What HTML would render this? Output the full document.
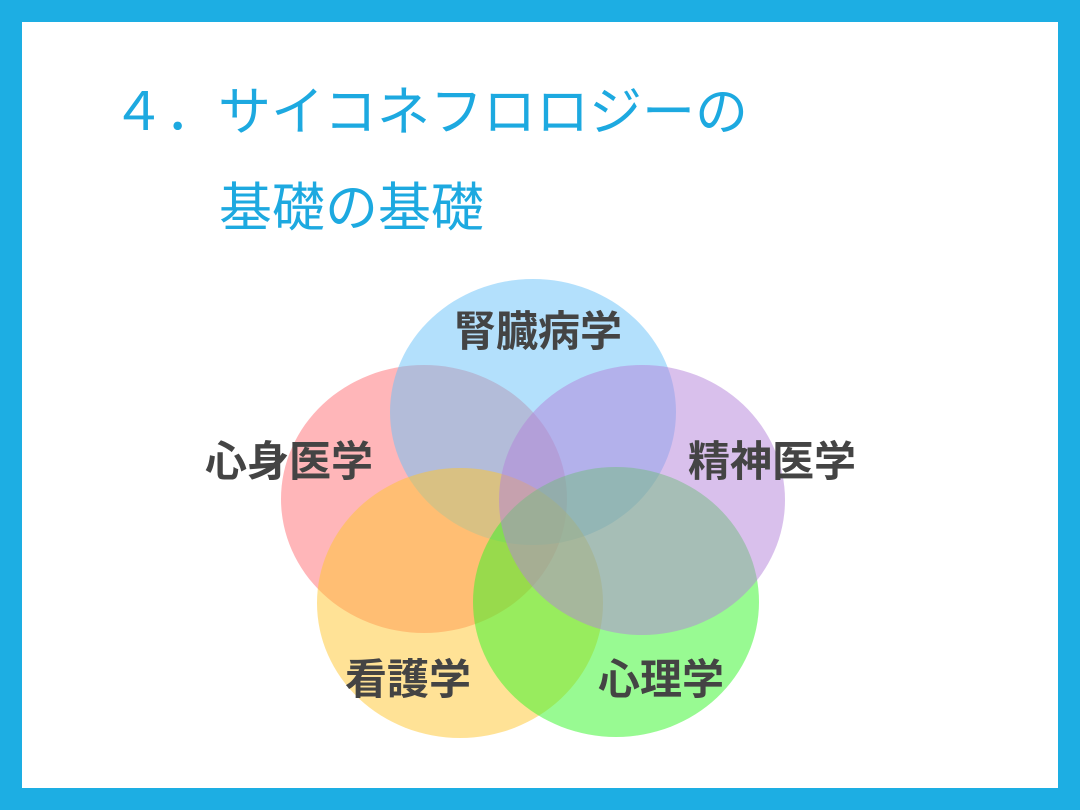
<!DOCTYPE html>
<html><head><meta charset="utf-8"><style>
html,body{margin:0;padding:0}
body{width:1080px;height:810px;background:#1DAEE3;position:relative;overflow:hidden;font-family:"Liberation Sans","Noto Sans CJK JP",sans-serif}
.inner{position:absolute;left:22px;top:22px;width:1036px;height:766px;background:#fff}
.t{position:absolute;color:#1DA9E0;font-size:53px;white-space:nowrap;line-height:74px}
.l{position:absolute;color:#444;font-size:42px;font-weight:bold;white-space:nowrap;line-height:60px}
svg{position:absolute;left:0;top:0}
</style></head><body>
<div class="inner"></div>
<div class="t" style="left:112px;top:76px">４．サイコネフロロジーの</div>
<div class="t" style="left:219px;top:172px">基礎の基礎</div>
<svg width="1080" height="810">
<ellipse cx="424" cy="499" rx="143" ry="134" fill="rgb(255,109,115)" fill-opacity="0.5"/>
<ellipse cx="533" cy="412" rx="143" ry="133" fill="rgb(103,193,249)" fill-opacity="0.5"/>
<ellipse cx="460" cy="603" rx="143" ry="135" fill="rgb(255,197,45)" fill-opacity="0.5"/>
<ellipse cx="616" cy="602" rx="143" ry="135" fill="rgb(49,245,37)" fill-opacity="0.5"/>
<ellipse cx="642" cy="500" rx="143" ry="135" fill="rgb(179,129,217)" fill-opacity="0.5"/>
</svg>
<div class="l" style="left:454px;top:302px">腎臓病学</div>
<div class="l" style="left:205px;top:432px">心身医学</div>
<div class="l" style="left:688px;top:432px">精神医学</div>
<div class="l" style="left:345px;top:650px">看護学</div>
<div class="l" style="left:598px;top:650px">心理学</div>
</body></html>
